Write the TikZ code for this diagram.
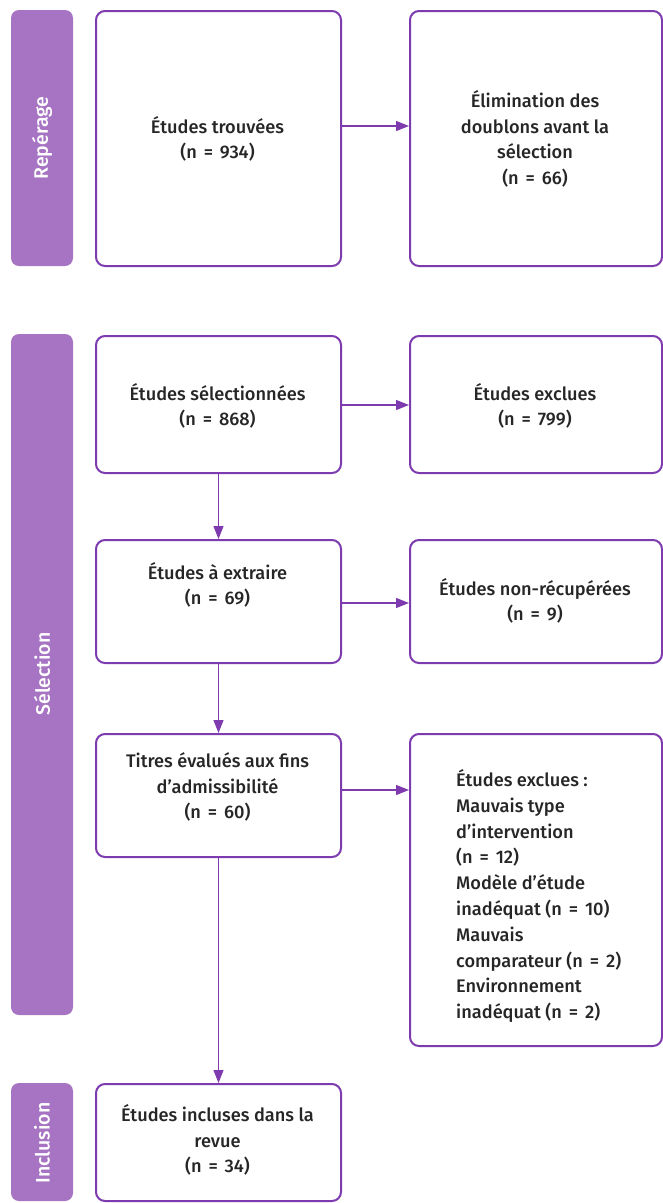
\documentclass[tikz,border=0pt]{standalone}
\usepackage{fontspec}
\setmainfont{Fira Sans}[UprightFont=* Medium]
\usetikzlibrary{arrows.meta}
\definecolor{barfill}{HTML}{A674C2}
\definecolor{boxline}{HTML}{7D3BAF}
\definecolor{txt}{HTML}{262626}
\tikzset{
  phasebar/.style={fill=barfill, draw=none, rounded corners=8pt, inner sep=0pt},
  phaselabel/.style={text=white, rotate=90, font=\fontsize{19.5}{22}\selectfont, inner sep=0pt},
  flowbox/.style={draw=boxline, line width=2pt, rounded corners=9pt, fill=white, inner sep=0pt},
  boxtext/.style={text=txt, align=center, inner sep=0pt, font=\fontsize{18.2}{25.5}\selectfont},
  listtext/.style={text=txt, align=left, inner sep=0pt, font=\fontsize{18.2}{25.8}\selectfont},
  flowarrow/.style={draw=boxline, line width=1.2pt, -{Triangle[length=13pt,width=10pt]}}
}
% equals sign with slightly wider spacing around it
\newcommand{\eqsp}{\hspace{0.38em}=\hspace{0.38em}}
\begin{document}
\begin{tikzpicture}[x=1pt,y=-1pt]
\useasboundingbox (0,0) rectangle (663,1203);

% phase bars
\draw[phasebar] (11,10) rectangle (73,266);
\node[phaselabel] (lrep) at (42,138) {Repérage};
\draw[phasebar] (11,334) rectangle (73,1015);
\node[phaselabel] (lsel) at (42,674) {Sélection};
\draw[phasebar] (11,1083) rectangle (73,1201);
\node[phaselabel] (linc) at (42,1143) {Inclusion};

% boxes (left column 95-340, right column 409-661)
\node[flowbox, minimum width=245pt, minimum height=255pt, anchor=north west] (b1) at (95,10) {};
\node[flowbox, minimum width=252pt, minimum height=255pt, anchor=north west] (b2) at (409,10) {};
\node[flowbox, minimum width=245pt, minimum height=137pt, anchor=north west] (b3) at (95,335) {};
\node[flowbox, minimum width=252pt, minimum height=137pt, anchor=north west] (b4) at (409,335) {};
\node[flowbox, minimum width=245pt, minimum height=123pt, anchor=north west] (b5) at (95,539) {};
\node[flowbox, minimum width=252pt, minimum height=123pt, anchor=north west] (b6) at (409,539) {};
\node[flowbox, minimum width=245pt, minimum height=123pt, anchor=north west] (b7) at (95,733) {};
\node[flowbox, minimum width=252pt, minimum height=312pt, anchor=north west] (b8) at (409,733) {};
\node[flowbox, minimum width=245pt, minimum height=117pt, anchor=north west] (b9) at (95,1083) {};

% box texts
\node[boxtext] (t1) at (217.5,139) {Études trouvées\\(n\eqsp 934)};
\node[boxtext] (t2) at (535,139) {Élimination des\\doublons avant la\\sélection\\(n\eqsp 66)};
\node[boxtext] (t3) at (217.5,406) {Études sélectionnées\\(n\eqsp 868)};
\node[boxtext] (t4) at (535,406) {Études exclues\\(n\eqsp 799)};
\node[boxtext] (t5) at (217.5,585) {Études à extraire\\(n\eqsp 69)};
\node[boxtext] (t6) at (535,601) {Études non-récupérées\\(n\eqsp 9)};
\node[boxtext] (t7) at (217.5,787) {Titres évalués aux fins\\d’admissibilité\\(n\eqsp 60)};
\node[listtext, anchor=west] (t8) at (456,896) {Études exclues :\\Mauvais type\\d’intervention\\(n\eqsp 12)\\Modèle d’étude\\inadéquat (n\eqsp 10)\\Mauvais\\comparateur (n\eqsp 2)\\Environnement\\inadéquat (n\eqsp 2)};
\node[boxtext] (t9) at (217.5,1140) {Études incluses dans la\\revue\\(n\eqsp 34)};

% connectors
\draw[flowarrow] (b1.east |- 0,126) -- (b2.west |- 0,126);
\draw[flowarrow] (b3.east |- 0,405) -- (b4.west |- 0,405);
\draw[flowarrow] (b5.east |- 0,603) -- (b6.west |- 0,603);
\draw[flowarrow] (b7.east |- 0,790) -- (b8.west |- 0,790);
\draw[flowarrow] (b3.south) -- (b5.north);
\draw[flowarrow] (b5.south) -- (b7.north);
\draw[flowarrow] (b7.south) -- (b9.north);
\end{tikzpicture}
\end{document}
